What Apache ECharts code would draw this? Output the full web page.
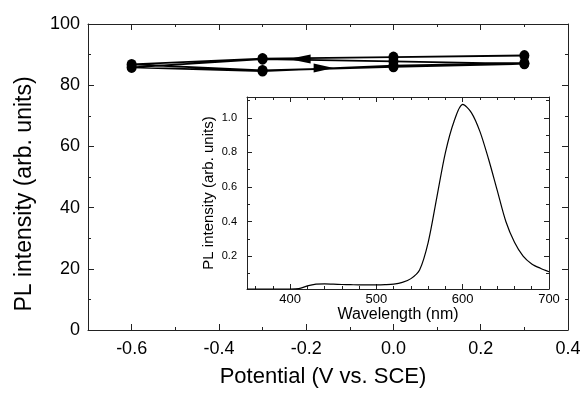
<!DOCTYPE html>
<html>
<head>
<meta charset="utf-8">
<script src="https://cdn.jsdelivr.net/npm/echarts@6/dist/echarts.min.js"></script>
<style>
html,body{margin:0;padding:0;background:#fff;}
#chart{width:584px;height:393px;}
</style>
</head>
<body>
<div id="chart"></div>
<script>
// ---- Main plot data (PL intensity vs potential, cyclic sweep) ----
var potentialSeq = [0.3, 0.0, -0.3, -0.6, -0.3, 0.0, 0.3, 0.0, -0.3, -0.6, -0.3, 0.0, 0.3];
var intensitySeq = [89.7, 89.2, 88.7, 86.8, 84.8, 86.0, 87.0, 87.8, 88.5, 85.8, 84.6, 86.4, 87.2];
// sweep direction arrows
var arrowLeftX = [-0.215], arrowLeftY = [88.6];
var arrowRightX = [-0.16], arrowRightY = [85.6];
// main axis ticks
var potentialMajorTicks = [-0.6, -0.4, -0.2, 0.0, 0.2, 0.4];
var potentialMinorTicks = [-0.5, -0.3, -0.1, 0.1, 0.3];

// ---- Inset data (PL spectrum) ----
var wavelength = [350,360,370,380,390,400,410,420,430,440,450,460,470,480,490,500,510,520,530,540,550,560,570,580,590,600,610,620,630,640,650,660,670,680,690,700];
var plSpectrum = [0.01,0.01,0.01,0.01,0.01,0.01,0.012,0.028,0.038,0.04,0.038,0.036,0.035,0.034,0.034,0.034,0.035,0.038,0.048,0.07,0.12,0.28,0.54,0.80,0.98,1.077,1.03,0.92,0.76,0.58,0.40,0.28,0.20,0.155,0.13,0.11];
var waveMajorTicks = [400, 500, 600, 700];
var waveMinorTicks = [360,380,420,440,460,480,520,540,560,580,620,640,660,680];
var plMajorTicks = [0.2, 0.4, 0.6, 0.8, 1.0];
var plMinorTicks = [0.1, 0.3, 0.5, 0.7, 0.9, 1.1];

function zip(a, b) { return a.map(function (v, i) { return [v, b[i]]; }); }

var FONT = 'Liberation Sans, Arial, sans-serif';
var AX = '#222';

function tickAxis(base, pos, ticks, len, showLine) {
  return Object.assign({
    type: 'value', position: pos,
    axisLine: { show: showLine, onZero: false, lineStyle: { color: AX, width: 1 } },
    axisTick: { show: true, inside: true, length: len, customValues: ticks, lineStyle: { color: AX, width: 1 } },
    axisLabel: { show: false },
    splitLine: { show: false }
  }, base);
}

var chart = echarts.init(document.getElementById('chart'), null, { renderer: 'canvas' });

var mainX = { gridIndex: 0, min: -0.7, max: 0.4 };
var insetX = { gridIndex: 1, min: 350, max: 700, z: 11 };

var xAxes = [
  Object.assign(tickAxis(mainX, 'bottom', potentialMajorTicks, 6, true), {
    axisLabel: { show: true, customValues: potentialMajorTicks, margin: 10, fontSize: 18, color: '#000', fontFamily: FONT,
      formatter: function (v) { return (+v).toFixed(1); } },
    name: 'Potential (V vs. SCE)', nameLocation: 'middle', nameGap: 36,
    nameTextStyle: { fontSize: 22, color: '#000', fontFamily: FONT, padding: [0, 10, 0, 0] }
  }),
  tickAxis(mainX, 'bottom', potentialMinorTicks, 3, false),
  tickAxis(mainX, 'top', potentialMajorTicks, 6, true),
  tickAxis(mainX, 'top', potentialMinorTicks, 3, false),
  Object.assign(tickAxis(insetX, 'bottom', waveMajorTicks, 5, true), {
    axisLabel: { show: true, customValues: waveMajorTicks, margin: 4, fontSize: 13, color: '#000', fontFamily: FONT },
    name: 'Wavelength (nm)', nameLocation: 'middle', nameGap: 18,
    nameTextStyle: { fontSize: 16, color: '#000', fontFamily: FONT }
  }),
  tickAxis(insetX, 'bottom', waveMinorTicks, 3, false),
  tickAxis(insetX, 'top', waveMajorTicks, 5, true),
  tickAxis(insetX, 'top', waveMinorTicks, 3, false)
];

function mainYAxis(pos, labels) {
  return {
    type: 'value', gridIndex: 0, position: pos, min: 0, max: 100, interval: 20,
    axisLine: { show: true, onZero: false, lineStyle: { color: AX, width: 1 } },
    axisTick: { show: true, inside: true, length: 6, lineStyle: { color: AX } },
    minorTick: { show: true, splitNumber: 2, length: 3, lineStyle: { color: AX } },
    axisLabel: labels ? { show: true, margin: 8, fontSize: 18, color: '#000', fontFamily: FONT } : { show: false },
    splitLine: { show: false }, minorSplitLine: { show: false }
  };
}
var leftMainY = mainYAxis('left', true);
leftMainY.name = 'PL intensity (arb. units)';
leftMainY.nameLocation = 'middle';
leftMainY.nameGap = 52;
leftMainY.nameTextStyle = { fontSize: 23, color: '#000', fontFamily: FONT, padding: [0, 34, 0, 0] };

var insetY = { gridIndex: 1, min: 0.01, max: 1.12, z: 11 };
var yAxes = [
  leftMainY,
  mainYAxis('right', false),
  Object.assign(tickAxis(insetY, 'left', plMajorTicks, 5, true), {
    axisLabel: { show: true, customValues: plMajorTicks, margin: 10, fontSize: 11, color: '#000', fontFamily: FONT,
      formatter: function (v) { return (+v).toFixed(1); } },
    name: 'PL intensity (arb. units)', nameLocation: 'middle', nameGap: 31, nameMoveOverlap: false,
    nameTextStyle: { fontSize: 15, color: '#000', fontFamily: FONT }
  }),
  tickAxis(insetY, 'left', plMinorTicks, 3, false),
  tickAxis(insetY, 'right', plMajorTicks, 5, true),
  tickAxis(insetY, 'right', plMinorTicks, 3, false)
];

chart.setOption({
  animation: false,
  backgroundColor: '#fff',
  grid: [
    { left: 88, right: 16, top: 24, bottom: 59, containLabel: false },
    { left: 247, right: 35, top: 97, bottom: 104, containLabel: false, show: true, backgroundColor: '#fff', borderWidth: 0, z: 10 }
  ],
  xAxis: xAxes,
  yAxis: yAxes,
  series: [
    {
      type: 'line', xAxisIndex: 0, yAxisIndex: 0,
      data: zip(potentialSeq, intensitySeq),
      symbol: 'circle', symbolSize: [10, 11],
      itemStyle: { color: '#000' },
      lineStyle: { color: '#000', width: 1.8 },
      z: 3
    },
    {
      type: 'scatter', xAxisIndex: 0, yAxisIndex: 0,
      data: zip(arrowLeftX, arrowLeftY),
      symbol: 'triangle', symbolSize: [9, 22], symbolRotate: 90,
      itemStyle: { color: '#000', opacity: 1 }, z: 5
    },
    {
      type: 'scatter', xAxisIndex: 0, yAxisIndex: 0,
      data: zip(arrowRightX, arrowRightY),
      symbol: 'triangle', symbolSize: [9, 20], symbolRotate: -90,
      itemStyle: { color: '#000', opacity: 1 }, z: 5
    },
    {
      type: 'line', xAxisIndex: 4, yAxisIndex: 2,
      data: zip(wavelength, plSpectrum),
      symbol: 'none', smooth: 0.3,
      lineStyle: { color: '#000', width: 1.2 },
      z: 12
    }
  ]
});
</script>
</body>
</html>
